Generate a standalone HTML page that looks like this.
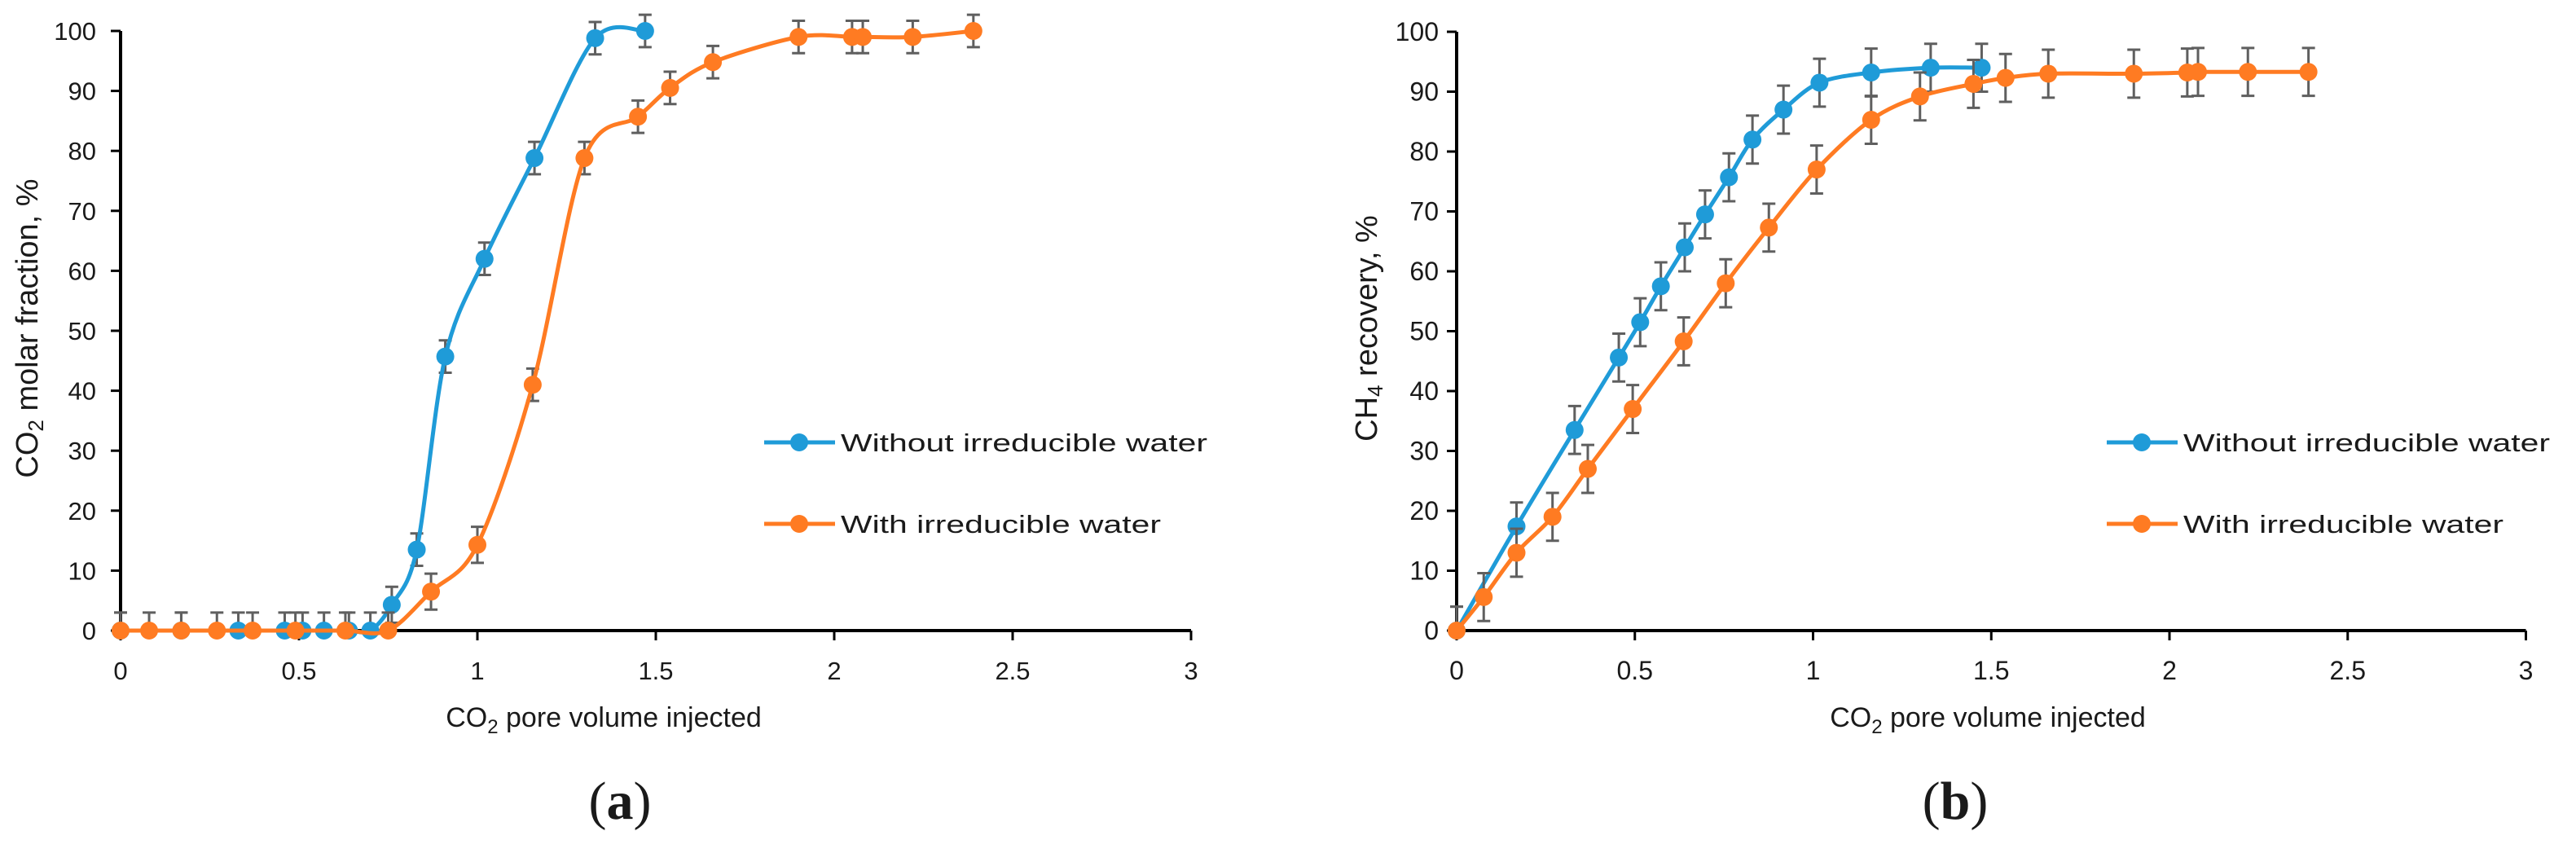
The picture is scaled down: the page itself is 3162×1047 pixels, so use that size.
<!DOCTYPE html>
<html><head><meta charset="utf-8"><style>
html,body{margin:0;padding:0;background:#fff;}
svg{display:block;}
text{font-family:"Liberation Sans",sans-serif;fill:#1a1a1a;}
</style></head><body>
<svg id="fig" width="3162" height="1047" viewBox="0 0 3162 1047" xmlns="http://www.w3.org/2000/svg"></svg>
<script>
// ---- data ----
const xTicks = [0, 0.5, 1, 1.5, 2, 2.5, 3];
const xTickLabels = ["0", "0.5", "1", "1.5", "2", "2.5", "3"];
const yTicks = [0, 10, 20, 30, 40, 50, 60, 70, 80, 90, 100];
const seriesNames = ["Without irreducible water", "With irreducible water"];

const aBlueX = [0, 0.17, 0.33, 0.46, 0.51, 0.57, 0.64, 0.70, 0.76, 0.83, 0.91, 1.02, 1.16, 1.33, 1.47];
const aBlueY = [0, 0, 0, 0, 0, 0, 0, 0, 4.3, 13.5, 45.7, 62, 78.8, 98.8, 100];
const aBlueErr = [3, 3, 3, 3, 3, 3, 3, 3, 3, 2.7, 2.7, 2.7, 2.7, 2.7, 2.7];
const aOrangeX = [0, 0.08, 0.17, 0.27, 0.37, 0.49, 0.63, 0.75, 0.87, 1.0, 1.155, 1.30, 1.45, 1.54, 1.66, 1.90, 2.05, 2.08, 2.22, 2.39];
const aOrangeY = [0, 0, 0, 0, 0, 0, 0, 0, 6.5, 14.3, 41, 78.8, 85.7, 90.5, 94.8, 99, 99, 99, 99, 100];
const aOrangeErr = [3, 3, 3, 3, 3, 3, 3, 3, 3, 3, 2.7, 2.7, 2.7, 2.7, 2.7, 2.7, 2.7, 2.7, 2.7, 2.7];

const bBlueX = [0, 0.168, 0.331, 0.455, 0.515, 0.573, 0.64, 0.697, 0.764, 0.83, 0.917, 1.018, 1.163, 1.33, 1.473];
const bBlueY = [0, 17.4, 33.5, 45.6, 51.5, 57.5, 64, 69.5, 75.7, 82, 87, 91.5, 93.2, 94, 94];
const bOrangeX = [0, 0.076, 0.168, 0.269, 0.368, 0.494, 0.637, 0.755, 0.876, 1.01, 1.163, 1.30, 1.45, 1.54, 1.66, 1.90, 2.05, 2.08, 2.22, 2.39];
const bOrangeY = [0, 5.6, 13, 19, 27, 37, 48.3, 58, 67.3, 77, 85.3, 89.2, 91.3, 92.3, 93, 93, 93.2, 93.3, 93.3, 93.3];
const bErr = 4;

// ---- drawing ----
const NS = "http://www.w3.org/2000/svg";
const svg = document.getElementById('fig');
const BLUE = "#1f9bd8", ORANGE = "#ff7b22", ERR = "#5f5f5f";
function mk(tag, attrs, parent) {
  const e = document.createElementNS(NS, tag);
  for (const k in attrs) e.setAttribute(k, attrs[k]);
  (parent || svg).appendChild(e);
  return e;
}
function smoothPath(pts) {
  if (pts.length < 2) return "";
  let d = "M" + pts[0][0] + "," + pts[0][1];
  for (let i = 0; i < pts.length - 1; i++) {
    const p0 = pts[Math.max(0, i - 1)], p1 = pts[i], p2 = pts[i + 1], p3 = pts[Math.min(pts.length - 1, i + 2)];
    const t = 0.16;
    const c1x = p1[0] + (p2[0] - p0[0]) * t, c1y = p1[1] + (p2[1] - p0[1]) * t;
    const c2x = p2[0] - (p3[0] - p1[0]) * t, c2y = p2[1] - (p3[1] - p1[1]) * t;
    d += " C" + c1x + "," + c1y + " " + c2x + "," + c2y + " " + p2[0] + "," + p2[1];
  }
  return d;
}

function drawChart(cfg) {
  const g = mk('g', {});
  
  
  const X = v => cfg.x0 + v * cfg.unit;
  const Y = v => cfg.y0 - v * (cfg.y0 - cfg.y100) / 100;

  const ax = mk('g', {}, g);
  
  
  mk('line', {x1: X(0), y1: Y(0), x2: X(3), y2: Y(0), stroke: '#000', 'stroke-width': 4}, ax);
  mk('line', {x1: X(0), y1: Y(0), x2: X(0), y2: Y(100), stroke: '#000', 'stroke-width': 4}, ax);

  xTicks.forEach((v, i) => {
    mk('line', {x1: X(v), y1: Y(0), x2: X(v), y2: Y(0) + 12, stroke: '#000', 'stroke-width': 3}, ax);
    const t = mk('text', {x: X(v), y: Y(0) + 60, 'text-anchor': 'middle', 'font-size': cfg.tickFont}, ax);
    t.textContent = xTickLabels[i];
    
    
  });
  yTicks.forEach(v => {
    mk('line', {x1: X(0) - 12, y1: Y(v), x2: X(0), y2: Y(v), stroke: '#000', 'stroke-width': 3}, ax);
    const t = mk('text', {x: X(0) - cfg.yLabelGap, y: Y(v) + 11, 'text-anchor': 'end', 'font-size': cfg.tickFont}, ax);
    t.textContent = String(v);
    
    
  });

  const xt = mk('text', {x: cfg.xTitleX, y: 892, 'text-anchor': 'middle', 'font-size': 34}, g);
  xt.innerHTML = 'CO<tspan font-size="24" dy="8">2</tspan><tspan dy="-8"> pore volume injected</tspan>';
  
  
  const yt = mk('text', {x: 0, y: 0, 'text-anchor': 'middle', 'font-size': 38, transform: 'translate(' + cfg.yTitleX + ',' + 403 + ') rotate(-90)'}, g);
  yt.innerHTML = cfg.yTitle;
  
  

  cfg.series.forEach(s => {
    const sg = mk('g', {}, g);
    
    
    s.xs.forEach((xv, i) => {
      const e = Array.isArray(s.err) ? s.err[i] : s.err;
      const cx = X(xv), top = Y(s.ys[i] + e), bot = Y(Math.max(0, s.ys[i] - e));
      const eb = mk('path', {d: 'M' + cx + ',' + top + 'V' + bot + 'M' + (cx - 8) + ',' + top + 'H' + (cx + 8) + 'M' + (cx - 8) + ',' + bot + 'H' + (cx + 8), stroke: ERR, 'stroke-width': 3, fill: 'none'}, sg);
      
      
    });
    const pts = s.xs.map((xv, i) => [X(xv), Y(s.ys[i])]);
    const ln = mk('path', {d: smoothPath(pts), stroke: s.color, 'stroke-width': 5, fill: 'none'}, sg);
    
    
    pts.forEach(p => {
      const c = mk('circle', {cx: p[0], cy: p[1], r: 11, fill: s.color}, sg);
      
      
    });
  });

  const lg = mk('g', {}, g);
  
  
  [[BLUE, 543, 450], [ORANGE, 643, 393]].forEach((it, i) => {
    const le = mk('g', {}, lg);
    
    
    mk('line', {x1: cfg.legX, y1: it[1], x2: cfg.legX + 87, y2: it[1], stroke: it[0], 'stroke-width': 5}, le);
    mk('circle', {cx: cfg.legX + 43, cy: it[1], r: 11, fill: it[0]}, le);
    const t = mk('text', {x: cfg.legX + 94, y: it[1] + 11, 'font-size': 31, textLength: it[2], lengthAdjust: 'spacingAndGlyphs'}, le);
    t.textContent = seriesNames[i];
  });

  const pl = mk('text', {x: cfg.panelX, y: 1005, 'text-anchor': 'middle', 'font-size': 66, style: 'font-family:"Liberation Serif",serif'}, g);
  pl.innerHTML = '(<tspan font-weight="bold">' + cfg.panel + '</tspan>)';
  
  
}

drawChart({
  name: 'chart-a-co2-molar-fraction', x0: 148, unit: 438, y0: 774, y100: 38,
  tickFont: 31, yLabelGap: 30, xTitleX: 741, yTitleX: 46,
  yTitle: 'CO<tspan font-size="26" dy="7">2</tspan><tspan dy="-7"> molar fraction, %</tspan>',
  legX: 938, panel: 'a', panelX: 761,
  series: [
    {name: 'series-without-water', xs: aBlueX, ys: aBlueY, err: aBlueErr, color: BLUE},
    {name: 'series-with-water', xs: aOrangeX, ys: aOrangeY, err: aOrangeErr, color: ORANGE}
  ]
});
drawChart({
  name: 'chart-b-ch4-recovery', x0: 1788, unit: 437.5, y0: 774, y100: 39,
  tickFont: 32, yLabelGap: 22, xTitleX: 2440, yTitleX: 1690,
  yTitle: 'CH<tspan font-size="26" dy="7">4</tspan><tspan dy="-7"> recovery, %</tspan>',
  legX: 2586, panel: 'b', panelX: 2400,
  series: [
    {name: 'series-without-water', xs: bBlueX, ys: bBlueY, err: bErr, color: BLUE},
    {name: 'series-with-water', xs: bOrangeX, ys: bOrangeY, err: bErr, color: ORANGE}
  ]
});
</script>
</body></html>
